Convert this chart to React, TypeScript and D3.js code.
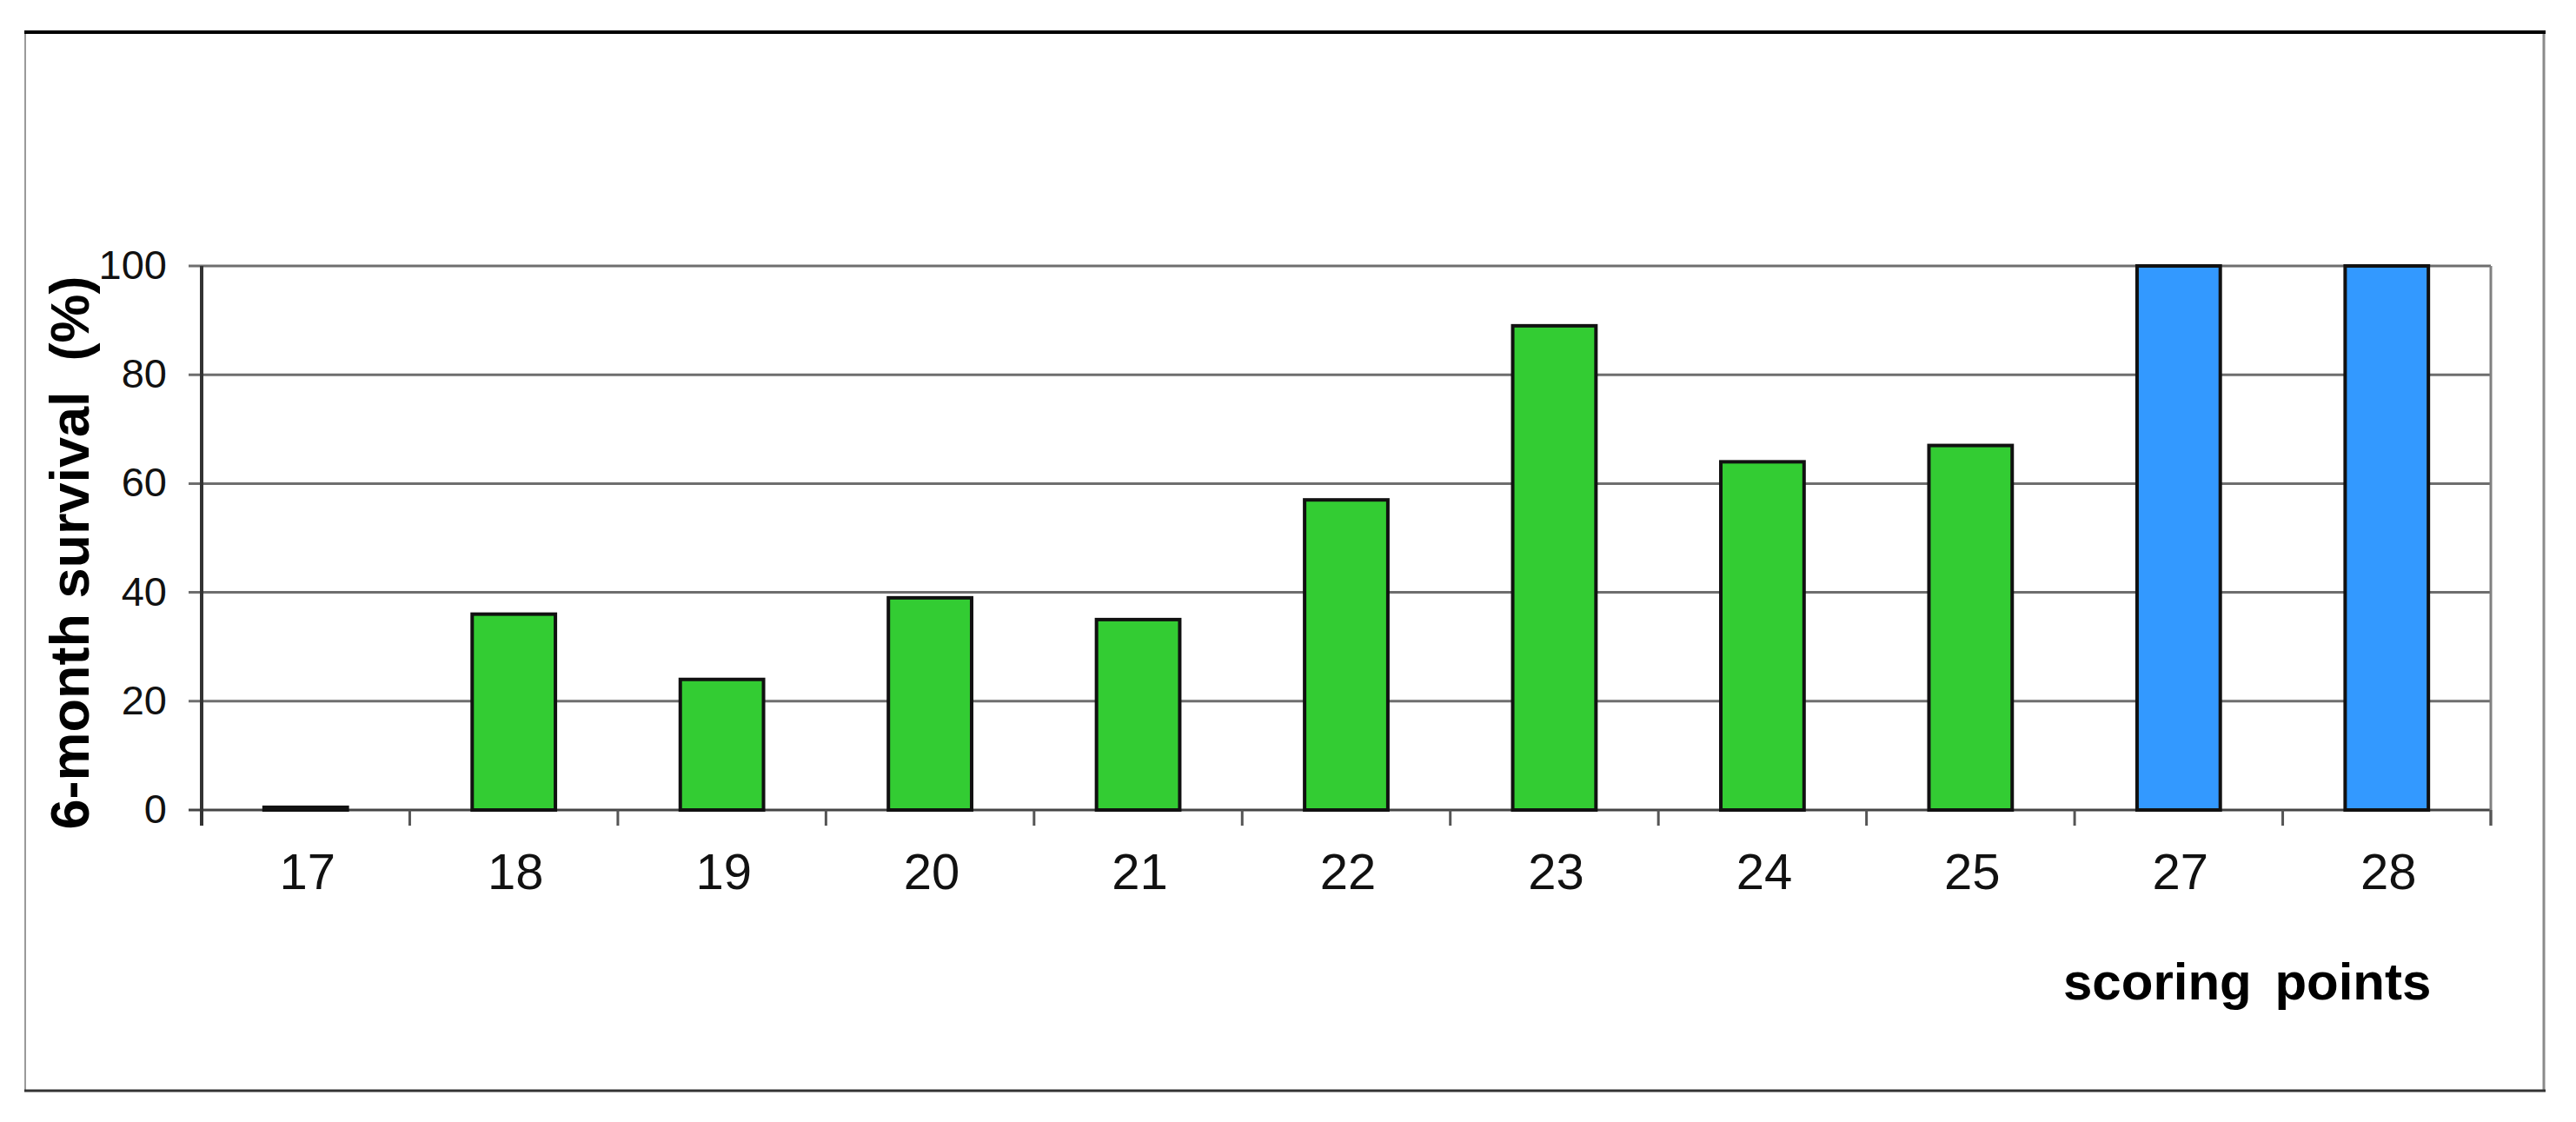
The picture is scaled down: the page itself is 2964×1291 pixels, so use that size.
import { useEffect, useRef } from "react";
import * as d3 from "d3";

// scoring points (26 is not in the chart)
const categories = ["17", "18", "19", "20", "21", "22", "23", "24", "25", "27", "28"];
// 6-month survival in %
const survival = [0.5, 36, 24, 39, 35, 57, 89, 64, 67, 100, 100];
const blueCategories = ["27", "28"];
const yTicks = [0, 20, 40, 60, 80, 100];

const W = 2964;
const H = 1291;

const App = () => {
  const svgRef = useRef<SVGSVGElement>(null);

  useEffect(() => {
    const root = d3.select(svgRef.current);
    root.selectAll("*").remove();

    const margin = { left: 232, right: W - 2866, top: 306, bottom: H - 932 };
    const width = W - margin.left - margin.right;
    const height = H - margin.top - margin.bottom;
    const font = "'Liberation Sans', Arial, sans-serif";

    // outer frame
    const frame = root.append("g");
    frame.append("line").attr("x1", 29).attr("x2", 29).attr("y1", 36).attr("y2", 1255)
      .attr("stroke", "#9a9a9a").attr("stroke-width", 2);
    frame.append("line").attr("x1", 2927).attr("x2", 2927).attr("y1", 36).attr("y2", 1255)
      .attr("stroke", "#8a8a8a").attr("stroke-width", 3);
    frame.append("line").attr("x1", 28).attr("x2", 2929).attr("y1", 37).attr("y2", 37)
      .attr("stroke", "#000").attr("stroke-width", 4);
    frame.append("line").attr("x1", 28).attr("x2", 2929).attr("y1", 1255).attr("y2", 1255)
      .attr("stroke", "#333").attr("stroke-width", 3);

    const svg = root.append("g").attr("transform", `translate(${margin.left},${margin.top})`);

    const xCat = d3.scaleBand().domain(categories).range([0, width]).padding(0);
    const x = d3.scaleBand().domain(categories).range([0, width])
      .paddingInner(0.6).paddingOuter(0.3);
    const y = d3.scaleLinear().domain([0, 100]).range([height, 0]);

    // gridlines
    svg.selectAll(".grid")
      .data(yTicks)
      .enter()
      .append("line")
      .attr("x1", -15)
      .attr("x2", width)
      .attr("y1", d => y(d))
      .attr("y2", d => y(d))
      .attr("stroke", d => (d === 0 ? "#444" : "#6e6e6e"))
      .attr("stroke-width", 3);

    // right edge of plot area
    svg.append("line")
      .attr("x1", width).attr("x2", width)
      .attr("y1", y(100)).attr("y2", y(0) + 18)
      .attr("stroke", "#808080").attr("stroke-width", 3);

    // bars
    svg.selectAll(".bar")
      .data(categories)
      .enter()
      .append("rect")
      .attr("x", d => x(d)!)
      .attr("y", (d, i) => y(survival[i]))
      .attr("width", x.bandwidth())
      .attr("height", (d, i) => y(0) - y(survival[i]))
      .attr("fill", d => (blueCategories.includes(d) ? "#3399ff" : "#33cc33"))
      .attr("stroke", "#111")
      .attr("stroke-width", 4);

    // x ticks at category boundaries
    const bounds = categories.map(c => xCat(c)!).concat([width]);
    svg.selectAll(".xtick")
      .data(bounds)
      .enter()
      .append("line")
      .attr("x1", d => d).attr("x2", d => d)
      .attr("y1", y(0)).attr("y2", y(0) + 18)
      .attr("stroke", "#555").attr("stroke-width", 3);

    // y axis line
    svg.append("line")
      .attr("x1", 0).attr("x2", 0)
      .attr("y1", y(100)).attr("y2", y(0) + 18)
      .attr("stroke", "#333").attr("stroke-width", 4);

    // y tick labels
    svg.selectAll(".ylab")
      .data(yTicks)
      .enter()
      .append("text")
      .attr("x", -40)
      .attr("y", d => y(d) + 15)
      .attr("text-anchor", "end")
      .style("font-family", font)
      .style("font-size", "47px")
      .attr("fill", "#111")
      .text(d => d);

    // x tick labels
    svg.selectAll(".xlab")
      .data(categories)
      .enter()
      .append("text")
      .attr("x", d => xCat(d)! + xCat.bandwidth() / 2 + 2)
      .attr("y", 1023 - margin.top)
      .attr("text-anchor", "middle")
      .style("font-family", font)
      .style("font-size", "58px")
      .attr("fill", "#111")
      .text(d => d);

    // axis titles
    root.append("text")
      .attr("transform", "translate(102,636) rotate(-90)")
      .attr("text-anchor", "middle")
      .style("font-family", font)
      .style("font-size", "63px")
      .style("font-weight", "bold")
      .style("white-space", "pre")
      .text("6-month survival  (%)");

    root.append("text")
      .attr("x", 2374)
      .attr("y", 1150)
      .style("font-family", font)
      .style("font-size", "60px")
      .style("font-weight", "bold")
      .style("word-spacing", "10px")
      .text("scoring points");
  }, []);

  return (
    <svg
      ref={svgRef}
      width={W}
      height={H}
      style={{ position: "absolute", left: 0, top: 0, background: "#fff" }}
    ></svg>
  );
};

export default App;
